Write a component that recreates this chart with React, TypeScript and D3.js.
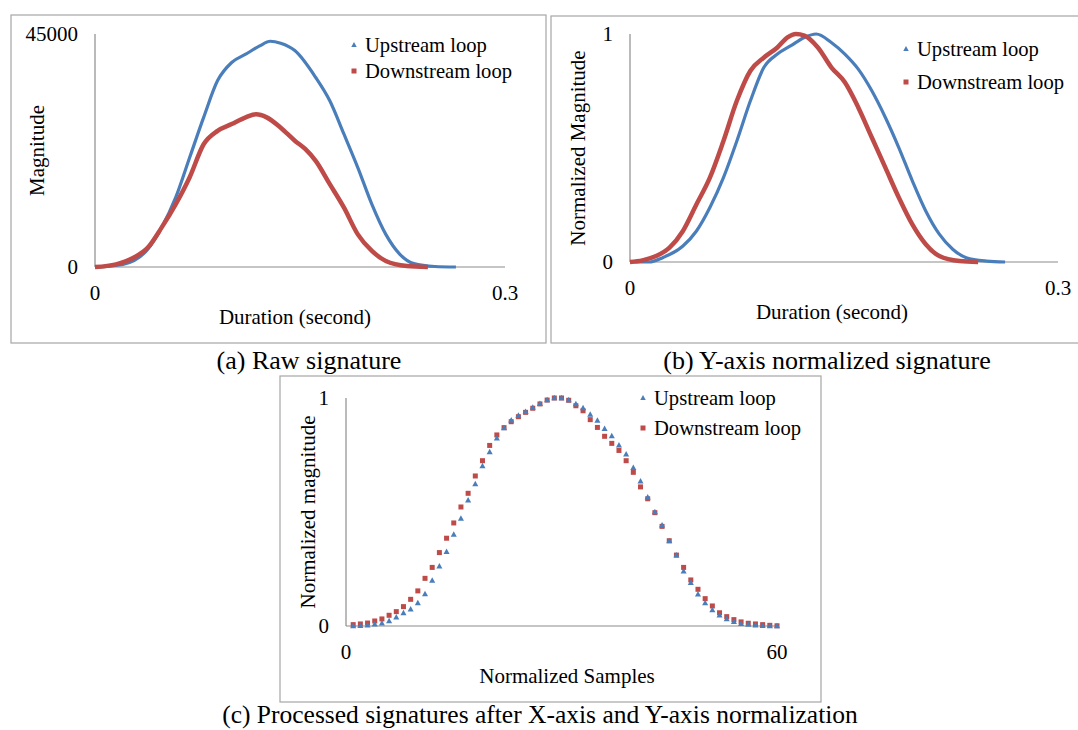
import React from 'react';
import * as d3 from 'd3';

const BLUE = '#4a7ebb';
const RED = '#be4b48';
const AXIS = '#8c8c8c';
const BORDER = '#a6a6a6';
const FONT = "'Liberation Serif', serif";

const seriesNames = ['Upstream loop', 'Downstream loop'];

// (a) raw signature: time in seconds, magnitude
const rawUpTime = [0, 0.0205, 0.0385, 0.0487, 0.059, 0.0692, 0.0795, 0.0897, 0.1, 0.1103, 0.1205, 0.1282, 0.1359, 0.1462, 0.1615, 0.1718, 0.1821, 0.1923, 0.2026, 0.2128, 0.2231, 0.2333, 0.2487, 0.2641];
const rawUpMag = [0, 520, 3400, 7600, 13400, 21100, 28900, 36000, 39500, 41100, 42700, 43600, 43200, 41800, 36600, 32100, 25700, 19200, 12100, 6300, 2450, 650, 100, 0];
const rawDownTime = [0, 0.0154, 0.0282, 0.0385, 0.0487, 0.059, 0.0692, 0.0795, 0.0897, 0.1, 0.1103, 0.1179, 0.1256, 0.1359, 0.1462, 0.1538, 0.1615, 0.1718, 0.1821, 0.1923, 0.2026, 0.2128, 0.2282, 0.2436];
const rawDownMag = [0, 520, 1800, 3700, 7600, 12100, 17300, 23700, 26300, 27600, 28900, 29500, 28900, 26900, 24400, 22800, 20500, 16000, 11500, 6300, 3100, 1160, 190, 0];

// (b) y-normalized signature
const normUpTime = [0, 0.0135, 0.0229, 0.0371, 0.0466, 0.056, 0.0655, 0.0749, 0.0844, 0.0939, 0.1033, 0.1128, 0.1222, 0.1305, 0.1411, 0.1506, 0.16, 0.1695, 0.179, 0.1884, 0.1979, 0.2073, 0.2168, 0.2262, 0.2357, 0.2499, 0.2629];
const normUpMag = [0, 0.0, 0.019, 0.07, 0.136, 0.239, 0.37, 0.531, 0.707, 0.854, 0.912, 0.949, 0.985, 1.0, 0.963, 0.912, 0.846, 0.751, 0.634, 0.502, 0.356, 0.224, 0.122, 0.056, 0.019, 0.004, 0];
const normDownTime = [0, 0.0087, 0.0182, 0.0277, 0.0371, 0.0466, 0.056, 0.0655, 0.0749, 0.0844, 0.0939, 0.1033, 0.1104, 0.1163, 0.1222, 0.1317, 0.1411, 0.1506, 0.16, 0.1695, 0.179, 0.1884, 0.1979, 0.2073, 0.2168, 0.231, 0.244];
const normDownMag = [0, 0.007, 0.026, 0.063, 0.136, 0.253, 0.37, 0.531, 0.707, 0.839, 0.897, 0.941, 0.985, 1.0, 0.993, 0.941, 0.854, 0.788, 0.678, 0.546, 0.414, 0.283, 0.165, 0.078, 0.026, 0.004, 0];

// (c) x- and y-normalized, 60 samples
const sampleIdx = d3.range(1, 61);
const procUp = [0, 0.001, 0.003, 0.007, 0.012, 0.022, 0.038, 0.057, 0.073, 0.101, 0.14, 0.199, 0.262, 0.325, 0.401, 0.471, 0.551, 0.623, 0.702, 0.763, 0.823, 0.868, 0.902, 0.923, 0.939, 0.958, 0.975, 0.991, 1.0, 1.0, 0.991, 0.974, 0.956, 0.927, 0.901, 0.865, 0.833, 0.792, 0.753, 0.694, 0.635, 0.564, 0.5, 0.442, 0.373, 0.31, 0.24, 0.189, 0.139, 0.101, 0.07, 0.047, 0.031, 0.018, 0.01, 0.006, 0.003, 0.001, 0, 0];
const procDown = [0.006, 0.009, 0.013, 0.022, 0.031, 0.047, 0.063, 0.085, 0.117, 0.154, 0.209, 0.257, 0.322, 0.385, 0.452, 0.522, 0.582, 0.658, 0.725, 0.792, 0.838, 0.87, 0.896, 0.918, 0.937, 0.955, 0.974, 0.991, 1.0, 1.0, 0.99, 0.966, 0.944, 0.905, 0.871, 0.832, 0.801, 0.77, 0.725, 0.674, 0.61, 0.558, 0.497, 0.437, 0.374, 0.311, 0.257, 0.202, 0.161, 0.12, 0.088, 0.058, 0.041, 0.028, 0.018, 0.012, 0.009, 0.006, 0.003, 0.001];

const Triangle = ({ x, y, s, color }) => (
  <path d={`M${x},${y - s * 0.6}L${x + s * 0.55},${y + s * 0.4}L${x - s * 0.55},${y + s * 0.4}Z`} fill={color} />
);
const Square = ({ x, y, s, color }) => (
  <rect x={x - s / 2} y={y - s / 2} width={s} height={s} fill={color} />
);

const Label = ({ x, y, size = 21, anchor = 'start', transform, children }) => (
  <text x={x} y={y} transform={transform} textAnchor={anchor} dominantBaseline="central"
    style={{ fontFamily: FONT, fontSize: size }}>{children}</text>
);

const Legend = ({ x, y, gap, mk }) => (
  <g>
    <Triangle x={x} y={y} s={mk} color={BLUE} />
    <Label x={x + 11} y={y} size={20.6}>{seriesNames[0]}</Label>
    <Square x={x} y={y + gap} s={mk} color={RED} />
    <Label x={x + 11} y={y + gap} size={20.6}>{seriesNames[1]}</Label>
  </g>
);

// shared frame: border, axes, tick labels, titles
const Frame = ({ box, xs, ys, xTicks, yTicks, xTitle, yTitle, xTitleX, yTitleX }) => {
  const [x0, x1] = xs.range();
  const [y0, y1] = ys.range();
  return (
    <g>
      <rect x={box.x} y={box.y} width={box.w} height={box.h} fill="white" stroke={BORDER} strokeWidth={1.2} />
      <line x1={x0} x2={x0} y1={y1} y2={y0} stroke={AXIS} strokeWidth={1.2} />
      <line x1={x0} x2={x1} y1={y0} y2={y0} stroke={AXIS} strokeWidth={1.2} />
      {yTicks.map((t) => (
        <Label key={'y' + t.v} x={x0 - 17} y={ys(t.v)} anchor="end">{t.label}</Label>
      ))}
      {xTicks.map((t) => (
        <Label key={'x' + t.v} x={xs(t.v)} y={y0 + 26} anchor="middle">{t.label}</Label>
      ))}
      <Label x={xTitleX} y={y0 + 50} anchor="middle">{xTitle}</Label>
      <Label x={0} y={0} anchor="middle" transform={`translate(${yTitleX},${(y0 + y1) / 2}) rotate(-90)`}>{yTitle}</Label>
    </g>
  );
};

const CurvePanel = ({ box, plot, yMax, yTicks, yTitle, yTitleX, xTitleX, up, down, legend }) => {
  const xs = d3.scaleLinear().domain([0, 0.3]).range([plot.left, plot.right]);
  const ys = d3.scaleLinear().domain([0, yMax]).range([plot.bottom, plot.top]);
  const line = d3.line().x((d) => xs(d[0])).y((d) => ys(d[1])).curve(d3.curveMonotoneX);
  const upPts = up[0].map((t, i) => [t, up[1][i]]);
  const downPts = down[0].map((t, i) => [t, down[1][i]]);
  return (
    <g>
      <Frame box={box} xs={xs} ys={ys}
        xTicks={[{ v: 0, label: '0' }, { v: 0.3, label: '0.3' }]}
        yTicks={yTicks} xTitle="Duration (second)" yTitle={yTitle} xTitleX={xTitleX} yTitleX={yTitleX} />
      <path d={line(upPts)} fill="none" stroke={BLUE} strokeWidth={3.2} />
      <path d={line(downPts)} fill="none" stroke={RED} strokeWidth={4.5} />
      <Legend x={legend.x} y={legend.y} gap={legend.gap} mk={5} />
    </g>
  );
};

const ScatterPanel = () => {
  const box = { x: 280, y: 376, w: 541, h: 326 };
  const xs = d3.scaleLinear().domain([0, 60]).range([346, 777]);
  const ys = d3.scaleLinear().domain([0, 1]).range([626, 398]);
  return (
    <g>
      <Frame box={box} xs={xs} ys={ys}
        xTicks={[{ v: 0, label: '0' }, { v: 60, label: '60' }]}
        yTicks={[{ v: 0, label: '0' }, { v: 1, label: '1' }]}
        xTitle="Normalized Samples" yTitle="Normalized magnitude" xTitleX={567} yTitleX={308} />
      {sampleIdx.map((s, i) => (
        <Square key={'d' + s} x={xs(s)} y={ys(procDown[i])} s={5} color={RED} />
      ))}
      {sampleIdx.map((s, i) => (
        <Triangle key={'u' + s} x={xs(s)} y={ys(procUp[i])} s={5.5} color={BLUE} />
      ))}
      <Legend x={643} y={398} gap={30} mk={5} />
    </g>
  );
};

export default function App() {
  return (
    <svg width={1078} height={730} style={{ position: 'absolute', left: 0, top: 0, background: 'white' }}>
      <rect x={0} y={0} width={1078} height={730} fill="white" />
      <CurvePanel
        box={{ x: 11, y: 15, w: 535, h: 328 }}
        plot={{ left: 95, right: 505, top: 34, bottom: 267 }}
        yMax={45000}
        yTicks={[{ v: 0, label: '0' }, { v: 45000, label: '45000' }]}
        yTitle="Magnitude" yTitleX={37} xTitleX={295}
        up={[rawUpTime, rawUpMag]} down={[rawDownTime, rawDownMag]}
        legend={{ x: 354, y: 45, gap: 26 }}
      />
      <CurvePanel
        box={{ x: 551, y: 16, w: 540, h: 327 }}
        plot={{ left: 630, right: 1058, top: 34, bottom: 262 }}
        yMax={1}
        yTicks={[{ v: 0, label: '0' }, { v: 1, label: '1' }]}
        yTitle="Normalized Magnitude" yTitleX={578} xTitleX={832}
        up={[normUpTime, normUpMag]} down={[normDownTime, normDownMag]}
        legend={{ x: 906, y: 49, gap: 33 }}
      />
      <ScatterPanel />
      <Label x={309} y={360} size={26} anchor="middle">(a) Raw signature</Label>
      <Label x={827} y={360} size={26} anchor="middle">(b) Y-axis normalized signature</Label>
      <Label x={540} y={714} size={25.5} anchor="middle">(c) Processed signatures after X-axis and Y-axis normalization</Label>
    </svg>
  );
}
